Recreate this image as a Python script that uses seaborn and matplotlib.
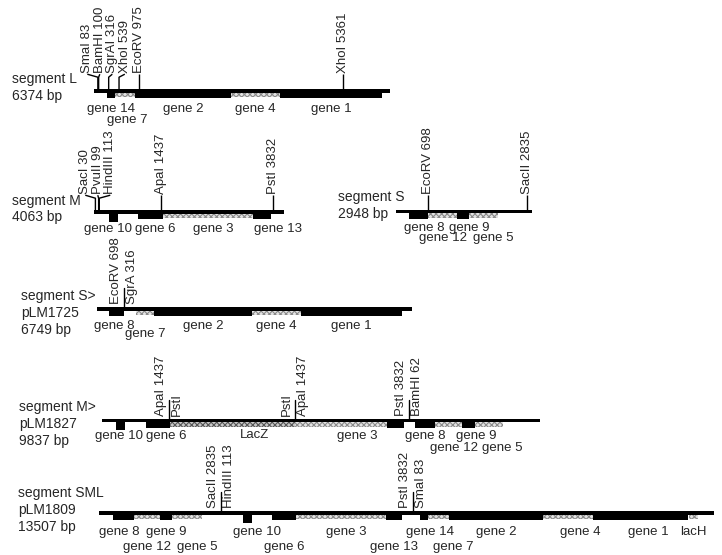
import matplotlib
matplotlib.use("Agg")
import matplotlib.pyplot as plt
import seaborn as sns

sns.set_theme(style="white")
plt.rcParams["font.family"] = ["Liberation Sans", "DejaVu Sans"]
plt.rcParams["hatch.linewidth"] = 0.8

# ---------------- data (all positions in bp) ----------------
# segment L
L_genes = ["gene 14", "gene 7", "gene 2", "gene 4", "gene 1"]
L_start = [280, 452, 883, 2950, 4005]
L_end = [452, 883, 2950, 4005, 6201]
L_sites = ["SmaI 83", "BamHI 100", "SgrAI 316", "XhoI 539", "EcoRV 975", "XhoI 5361"]
L_site_bp = [83, 100, 316, 539, 975, 5361]

# segment M
M_genes = ["gene 10", "gene 6", "gene 3", "gene 13"]
M_start = [321, 941, 1475, 3400]
M_end = [513, 1475, 3400, 3784]
M_sites = ["SacI 30", "PvuII 99", "HindIII 113", "ApaI 1437", "PstI 3832"]
M_site_bp = [30, 99, 113, 1437, 3832]

# segment S
S_genes = ["gene 8", "gene 12", "gene 9", "gene 5"]
S_start = [282, 694, 1322, 1583]
S_end = [694, 1322, 1583, 2211]
S_sites = ["EcoRV 698", "SacII 2835"]
S_site_bp = [698, 2835]

# pLM1725 (segment S> L)
P1725_genes = ["gene 8", "gene 7", "gene 2", "gene 4", "gene 1"]
P1725_start = [257, 836, 1221, 3321, 4371]
P1725_end = [579, 1221, 3321, 4371, 6535]
P1725_junc_bp = [580]
P1725_junc_left = ["EcoRV 698"]
P1725_junc_right = ["SgrA 316"]

# pLM1827 (segment M> with LacZ)
P1827_genes = ["gene 10", "gene 6", "LacZ", "gene 3", "gene 13",
               "gene 8", "gene 12", "gene 9", "gene 5"]
P1827_start = [314, 988, 1527, 4335, 6401, 7030, 7479, 8085, 8377]
P1827_end = [517, 1527, 4335, 6401, 6783, 7479, 8085, 8377, 9006]
P1827_junc_bp = [1505, 4335, 6895]
P1827_junc_left = ["ApaI 1437", "PstI", "PstI 3832"]
P1827_junc_right = ["PstI", "ApaI 1437", "BamHI 62"]

# pLM1809 (segment SML)
P1809_genes = ["gene 8", "gene 12", "gene 9", "gene 5", "gene 10", "gene 6", "gene 3",
               "gene 13", "gene 14", "gene 7", "gene 2", "gene 4", "gene 1", "lacH"]
P1809_start = [318, 769, 1340, 1603, 3162, 3799, 4326, 6303, 7049, 7225, 7686, 9750, 10848, 12957]
P1809_end = [769, 1340, 1603, 2262, 3360, 4326, 6303, 6665, 7225, 7686, 9750, 10848, 12935, 13155]
P1809_junc_bp = [2679, 6896]
P1809_junc_left = ["SacII 2835", "PstI 3832"]
P1809_junc_right = ["HindIII 113", "SmaI 83"]

STIPPLED = {"gene 7", "gene 4", "gene 12", "gene 5", "gene 3", "lacH"}
DARK_STIPPLED = {"LacZ"}
DEEP = {"gene 10"}

rows = [
    dict(title="segment L\n6374 bp", length=6374, genes=L_genes, start=L_start, end=L_end,
         sites=L_sites, site_bp=L_site_bp, jbp=[], jl=[], jr=[]),
    dict(title="segment M\n4063 bp", length=4063, genes=M_genes, start=M_start, end=M_end,
         sites=M_sites, site_bp=M_site_bp, jbp=[], jl=[], jr=[]),
    dict(title="segment S\n2948 bp", length=2948, genes=S_genes, start=S_start, end=S_end,
         sites=S_sites, site_bp=S_site_bp, jbp=[], jl=[], jr=[]),
    dict(title="segment S>\npLM1725\n6749 bp", length=6749, genes=P1725_genes,
         start=P1725_start, end=P1725_end, sites=[], site_bp=[],
         jbp=P1725_junc_bp, jl=P1725_junc_left, jr=P1725_junc_right),
    dict(title="segment M>\npLM1827\n9837 bp", length=9837, genes=P1827_genes,
         start=P1827_start, end=P1827_end, sites=[], site_bp=[],
         jbp=P1827_junc_bp, jl=P1827_junc_left, jr=P1827_junc_right),
    dict(title="segment SML\npLM1809\n13507 bp", length=13507, genes=P1809_genes,
         start=P1809_start, end=P1809_end, sites=[], site_bp=[],
         jbp=P1809_junc_bp, jl=P1809_junc_left, jr=P1809_junc_right),
]

# ---------------- layout (pixels) ----------------
layout = [
    dict(y=91, x0=94, x1=390, tx=12, ty=-3.5, g0=18, g1=29, lower={"gene 7"},
         nudge={"gene 7": 2}),
    dict(y=212, x0=94, x1=284, tx=12, ty=-3, g0=17, g1=28, lower=set(),
         nudge={"gene 3": 5, "gene 13": 16}),
    dict(y=211.5, x0=396, x1=532, tx=338, ty=-6, g0=16, g1=27, lower={"gene 12", "gene 5"},
         nudge={"gene 8": 6, "gene 9": 6, "gene 5": 10}),
    dict(y=309, x0=97, x1=412, tx=21, ty=4, g0=17, g1=25, lower={"gene 7"},
         nudge={"gene 8": -2}),
    dict(y=420.5, x0=102, x1=540, tx=19, ty=3.5, g0=15, g1=28, lower={"gene 12", "gene 5"},
         hide={"gene 13"},
         nudge={"gene 6": 6, "LacZ": 22, "gene 3": 16, "gene 9": 8, "gene 12": 6,
                "gene 5": 13}),
    dict(y=513, x0=99, x1=714, tx=18, ty=-3, g0=19, g1=34,
         lower={"gene 12", "gene 5", "gene 6", "gene 13", "gene 7"},
         nudge={"gene 5": 10, "gene 10": 10, "gene 3": 5, "gene 14": 6, "gene 7": 15,
                "gene 4": 12, "gene 1": 8, "gene 8": -4}),
]

W, H = 722, 555
FS = 9.5
fig = plt.figure(figsize=(W / 100, H / 100), dpi=100)
renderer = fig.canvas.get_renderer()


def spread(centers, widths, gap):
    c = list(centers)
    order = sorted(range(len(c)), key=lambda i: c[i])
    for _ in range(300):
        moved = False
        for a, b in zip(order, order[1:]):
            need = (widths[a] + widths[b]) / 2 + gap - (c[b] - c[a])
            if need > 0.01:
                c[a] -= need / 2
                c[b] += need / 2
                moved = True
        if not moved:
            break
    return c


for row, lay in zip(rows, layout):
    ax = fig.add_axes([0, 0, 1, 1])
    ax.set_axis_off()
    ax.patch.set_alpha(0)
    L = row["length"]
    k = L / (lay["x1"] - lay["x0"])  # bp per pixel
    ax.set_xlim(-lay["x0"] * k, (W - lay["x0"]) * k)
    ax.set_ylim(H, 0)
    y = lay["y"]
    top = y - 1.8

    # backbone
    ax.bar(0, 3.6, width=L, bottom=top, align="edge", color="black", linewidth=0)

    # genes
    for name, s, e in zip(row["genes"], row["start"], row["end"]):
        if name in STIPPLED:
            ax.bar(s, 4.8, width=e - s, bottom=y + 1.6, align="edge", color="#e4e4e4",
                   edgecolor="#8a8a8a", hatch="xxxxxx", linewidth=0)
        elif name in DARK_STIPPLED:
            ax.bar(s, 4.8, width=e - s, bottom=y + 1.6, align="edge", color="#c8c8c8",
                   edgecolor="#555555", hatch="xxxxxx", linewidth=0)
        else:
            depth = 8.5 if name in DEEP else 6.2
            ax.bar(s, depth, width=e - s, bottom=y + 1.0, align="edge", color="black",
                   linewidth=0)

    # gene labels, two staggered levels, pushed apart to avoid overlap
    hide = lay.get("hide", set())
    nudge = lay.get("nudge", {})
    for level, off in ((0, lay["g0"]), (1, lay["g1"])):
        texts, cents = [], []
        for name, s, e in zip(row["genes"], row["start"], row["end"]):
            if name in hide or (name in lay["lower"]) != (level == 1):
                continue
            c = (s + e) / 2
            t = ax.text(c, y + off, name, fontsize=FS, ha="center", va="center")
            texts.append(t)
            cents.append(lay["x0"] + c / k + nudge.get(name, 0))
        if not texts:
            continue
        widths = [t.get_window_extent(renderer).width for t in texts]
        new = spread(cents, widths, 3)
        for t, cx in zip(texts, new):
            t.set_x((cx - lay["x0"]) * k)

    # simple restriction sites with labels above
    if row["sites"]:
        px = [lay["x0"] + b / k for b in row["site_bp"]]
        lab = spread(px, [11] * len(px), 1.5)
        for name, b, lx in zip(row["sites"], row["site_bp"], lab):
            lbp = (lx - lay["x0"]) * k
            ax.plot([b, b, lbp], [top, top - 12, top - 15], color="black", lw=1.0,
                    solid_capstyle="butt")
            ax.text(lbp, top - 16, name, fontsize=FS, rotation=90, ha="center",
                    va="bottom")

    # junction sites: one tick flanked by two labels
    for b, left, right in zip(row["jbp"], row["jl"], row["jr"]):
        ax.plot([b, b], [top, top - 19], color="black", lw=1.0)
        ax.text(b - 2.0 * k, top - 3, left, fontsize=FS, rotation=90, ha="right",
                va="bottom")
        ax.text(b + 2.0 * k, top - 3, right, fontsize=FS, rotation=90, ha="left",
                va="bottom")

    # row title
    ax.text((lay["tx"] - lay["x0"]) * k, y + lay["ty"], row["title"], fontsize=10,
            ha="left", va="center", linespacing=1.25)

fig.savefig("out.png", dpi=100, facecolor="white")
